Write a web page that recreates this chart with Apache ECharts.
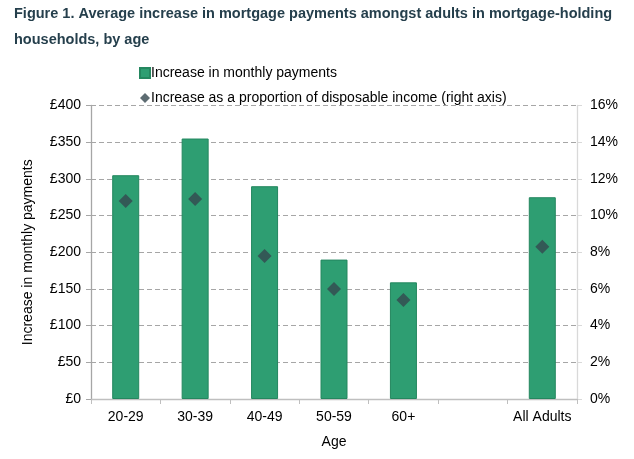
<!DOCTYPE html>
<html><head><meta charset="utf-8">
<script src="https://cdn.jsdelivr.net/npm/echarts@6/dist/echarts.min.js"></script>
<style>html,body{margin:0;padding:0;background:#fff}#c{width:634px;height:459px}</style>
</head><body><div id="c"></div>
<script>
const categories = ['20-29','30-39','40-49','50-59','60+','','All Adults'];
const monthlyIncrease = [305, 355, 290, 190, 159, null, 275];
const proportionIncome = [10.8, 10.9, 7.8, 6.0, 5.4, null, 8.3];
const leftTicks = ['£0','£50','£100','£150','£200','£250','£300','£350','£400'];
const titleText = 'Figure 1. Average increase in mortgage payments amongst adults in mortgage-holding\nhouseholds, by age';

const chart = echarts.init(document.getElementById('c'));
const txt = '#000';
chart.setOption({
  animation: false,
  textStyle: {fontFamily: 'Liberation Sans, Arial, sans-serif'},
  title: {
    text: titleText, left: 9, top: 0, padding: [1, 5, 5, 5],
    textStyle: {fontFamily: 'Liberation Sans, Arial, sans-serif', fontWeight: 'bold', fontSize: 14.5, lineHeight: 26, color: '#253f4c'}
  },
  legend: {
    orient: 'vertical', left: 139, top: 66, padding: 0, itemGap: 11, itemWidth: 10, itemHeight: 10,
    textStyle: {fontSize: 14, color: txt, padding: [0,0,0,-4]},
    data: [
      {name: 'Increase in monthly payments', icon: 'rect'},
      {name: 'Increase as a proportion of disposable income (right axis)', icon: 'diamond'}
    ]
  },
  grid: {left: 91, right: 57, top: 105.5, bottom: 60},
  xAxis: {
    type: 'category', data: categories,
    name: 'Age', nameLocation: 'middle', nameGap: 36,
    nameTextStyle: {fontSize: 14, color: txt},
    axisLine: {lineStyle: {color: '#bfbfbf', width: 1.3}},
    axisTick: {show: true, length: 5, lineStyle: {color: '#bfbfbf'}},
    axisLabel: {fontSize: 14, color: txt, margin: 11, interval: 0}
  },
  yAxis: [{
    type: 'value', min: 0, max: 400, interval: 50,
    name: 'Increase in monthly payments', nameLocation: 'middle', nameGap: 56, nameRotate: 90,
    nameTextStyle: {fontSize: 14, color: txt},
    axisLine: {show: true, lineStyle: {color: '#a6a6a6', width: 1.3}},
    axisTick: {show: true, length: 5, lineStyle: {color: '#a6a6a6'}},
    axisLabel: {fontSize: 14, color: txt, margin: 10, formatter: (v) => leftTicks[v/50]},
    splitLine: {show: true, lineStyle: {color: '#a6a6a6', type: [5,3], width: 1}}
  }, {
    type: 'value', min: 0, max: 16, interval: 2,
    axisLine: {show: true, lineStyle: {color: '#d9d9d9', width: 1.3}},
    axisTick: {show: true, length: 5, lineStyle: {color: '#d9d9d9'}},
    axisLabel: {fontSize: 14, color: txt, margin: 13, formatter: '{value}%'},
    splitLine: {show: false}
  }],
  series: [{
    name: 'Increase in monthly payments', type: 'bar', data: monthlyIncrease,
    barWidth: 27,
    itemStyle: {color: '#2e9e72', borderColor: '#24875f', borderWidth: 1}
  }, {
    name: 'Increase as a proportion of disposable income (right axis)', type: 'scatter',
    yAxisIndex: 1, data: proportionIncome, symbol: 'diamond', symbolSize: 14,
    itemStyle: {color: '#34474f'}
  }]
});
</script></body></html>
